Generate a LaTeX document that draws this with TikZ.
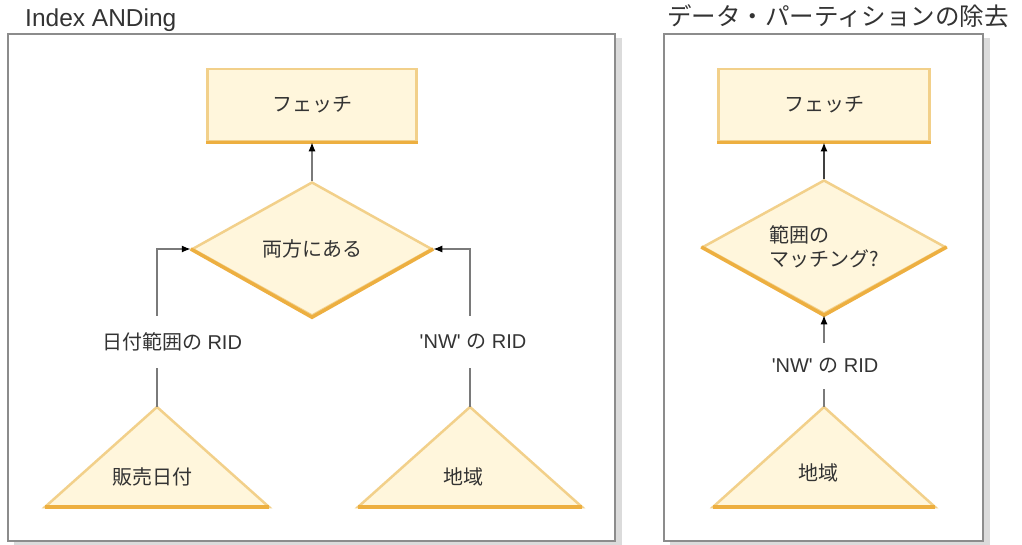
\documentclass[tikz,border=0pt]{standalone}
\usepackage{fontspec}
\setmainfont{Liberation Sans}[Ligatures=TeXOff]
\newfontfamily\jp{Noto Sans CJK JP}
\usetikzlibrary{arrows.meta,shapes.geometric}

\definecolor{boxfill}{HTML}{FFF6DC}
\definecolor{edgelight}{HTML}{F2D08A}
\definecolor{edgedark}{HTML}{EDAF40}
\definecolor{framegray}{HTML}{8C8C8C}
\definecolor{linegray}{HTML}{7A7A7A}
\definecolor{textgray}{HTML}{333333}

\tikzset{
  panel/.style={draw=framegray, line width=1.2pt, fill=white},
  shade/.style={fill=black!14},
  title/.style={anchor=base west, inner sep=0pt, font=\fontsize{24.5}{28}\selectfont},
  fetchbox/.style={rectangle, fill=boxfill, draw=edgelight, line width=2.5pt,
    minimum width=209pt, minimum height=72pt, font={\fontsize{20}{24}\selectfont\jp}},
  test/.style={diamond, fill=boxfill, draw=edgelight, line width=2.5pt,
    aspect=1.8, inner sep=0pt, font={\fontsize{20}{24}\selectfont\jp}},
  index/.style={fill=boxfill, draw=edgelight, line width=2.5pt, line join=miter},
  darkedge/.style={draw=edgedark, line width=3.5pt},
  ridlabel/.style={minimum height=52pt, inner sep=0pt},
  link/.style={draw=linegray, line width=1.3pt},
  tip/.style={-{Latex[length=9pt,width=7pt,color=black]}}
}

\begin{document}
\begin{tikzpicture}[x=1pt, y=-1pt, font=\fontsize{20}{24}\selectfont, text=textgray]
    \useasboundingbox (0,0) rectangle (1022,544);

    % Panels with shadow
    \fill[shade] (14,38) rectangle (622,548);
    \draw[panel] (8,34) rectangle (615,541);
    \fill[shade] (670,38) rectangle (990,548);
    \draw[panel] (664,34) rectangle (983,541);

    \node[title] (andTitle) at (25,26) {Index ANDing};
    \node[title] (dpeTitle) at (667,25) {\jp データ・パーティションの除去};

    % ---- Index ANDing ----
    \node[fetchbox] (fetchL) at (312,105) {フェッチ};
    \draw[darkedge] (fetchL.south west) -- (fetchL.south east);

    \node[test, minimum width=240pt, minimum height=134pt] (both) at (312,249) {両方にある};
    \draw[darkedge, line join=miter] (both.west) -- (both.south) -- (both.east);

    % index triangles
    \coordinate (dateTop) at (157,407);
    \draw[index] (dateTop) -- (269,507) -- (45,507) -- cycle;
    \draw[darkedge] (45,507) -- (269,507);
    \node (saleDate) at (152,477) {\jp 販売日付};

    \coordinate (regionTop) at (470,407);
    \draw[index] (regionTop) -- (582,507) -- (358,507) -- cycle;
    \draw[darkedge] (358,507) -- (582,507);
    \node (region) at (463,477) {\jp 地域};

    % RID labels
    \node[ridlabel] (dateRid) at (172,342) {{\jp 日付範囲の} RID};
    \node[ridlabel] (nwRid) at (473,342) {'NW' {\jp の} RID};

    \draw[link] (dateTop) -- (dateRid.south -| dateTop);
    \draw[link, tip] (dateRid.north -| dateTop) |- (both.west);
    \draw[link] (regionTop) -- (nwRid.south -| regionTop);
    \draw[link, tip] (nwRid.north -| regionTop) |- (both.east);
    \draw[link, tip] (both.north) -- (fetchL.south);

    % ---- Data partition elimination ----
    \node[fetchbox, minimum width=211pt] (fetchR) at (824,105) {フェッチ};
    \draw[darkedge] (fetchR.south west) -- (fetchR.south east);

    \node[test, minimum width=243pt, minimum height=134pt, align=left] (match) at (824,247)
        {範囲の\\マッチング?};
    \draw[darkedge, line join=miter] (match.west) -- (match.south) -- (match.east);

    \coordinate (regionTopR) at (824,407);
    \draw[index] (regionTopR) -- (935,507) -- (713,507) -- cycle;
    \draw[darkedge] (713,507) -- (935,507);
    \node (regionR) at (818,473) {\jp 地域};

    \node[ridlabel, minimum height=46pt] (nwRidR) at (825,366) {'NW' {\jp の} RID};

    \draw[link] (regionTopR) -- (nwRidR.south -| regionTopR);
    \draw[link, tip] (nwRidR.north -| regionTopR) -- (match.south);
    \draw[link, tip, draw=black!75, line width=2.2pt] (match.north) -- (fetchR.south);

\end{tikzpicture}
\end{document}
